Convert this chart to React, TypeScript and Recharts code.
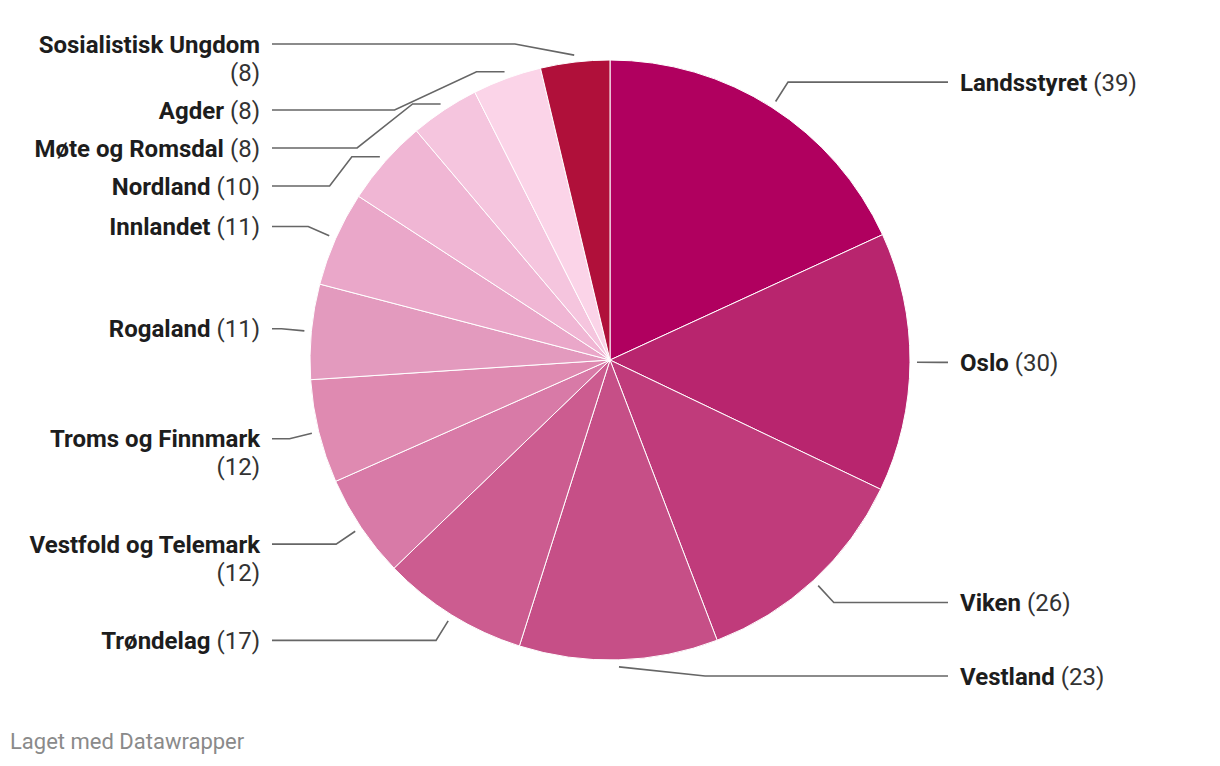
import { Cell, Pie, PieChart } from "recharts";

const NAMES = [
  "Landsstyret",
  "Oslo",
  "Viken",
  "Vestland",
  "Trøndelag",
  "Vestfold og Telemark",
  "Troms og Finnmark",
  "Rogaland",
  "Innlandet",
  "Nordland",
  "Møte og Romsdal",
  "Agder",
  "Sosialistisk Ungdom",
];

const VALUES = [39, 30, 26, 23, 17, 12, 12, 11, 11, 10, 8, 8, 8];

const COLORS = [
  "#b0005f",
  "#b8256e",
  "#c03b7b",
  "#c64f87",
  "#cc5c90",
  "#d87aa7",
  "#df8ab1",
  "#e39abe",
  "#eaa7c9",
  "#f0b6d4",
  "#f5c5de",
  "#fbd4e8",
  "#b0103a",
];

const WIDTH = 1220;
const HEIGHT = 766;
const CX = 610;
const CY = 360;
const RADIUS = 300;
const ELBOW_R = 330;
const LINE_H = 28;
const GAP = 10;
const TOP_Y = 44;
const BOTTOM_Y = 676;
const FONT = 24;

const data = NAMES.map((name, i) => ({ name, value: VALUES[i] }));

function isWrapped(i: number) {
  return `${NAMES[i]} (${VALUES[i]})`.length > 20;
}

// label y positions, pushed apart per side so they don't overlap
function layoutLabels() {
  const total = VALUES.reduce((s, v) => s + v, 0);
  let cum = 0;
  const items = VALUES.map((v, i) => {
    const mid = 90 - ((cum + v / 2) / total) * 360;
    cum += v;
    const rad = (mid * Math.PI) / 180;
    return {
      index: i,
      right: Math.cos(rad) >= 0,
      y: CY - ELBOW_R * Math.sin(rad),
      lines: isWrapped(i) ? 2 : 1,
    };
  });

  const result: number[] = new Array(VALUES.length).fill(0);
  [true, false].forEach((side) => {
    const list = items.filter((it) => it.right === side).sort((a, b) => a.y - b.y);
    let prev = -Infinity;
    list.forEach((it) => {
      it.y = Math.max(it.y, prev, TOP_Y);
      prev = it.y + it.lines * LINE_H + GAP;
    });
    let next = Infinity;
    for (let k = list.length - 1; k >= 0; k--) {
      const it = list[k];
      it.y = Math.min(it.y, next - it.lines * LINE_H - GAP, BOTTOM_Y - (it.lines - 1) * LINE_H);
      next = it.y;
    }
    list.forEach((it) => {
      result[it.index] = it.y;
    });
  });
  return result;
}

const LABEL_Y = layoutLabels();

function renderLabel(props: any) {
  const { cx, cy, midAngle, outerRadius, index } = props;
  const rad = (-midAngle * Math.PI) / 180;
  const right = Math.cos(rad) >= 0;
  const dir = right ? 1 : -1;
  const sx = cx + (outerRadius + 7) * Math.cos(rad);
  const sy = cy + (outerRadius + 7) * Math.sin(rad);
  const ly = LABEL_Y[index];
  const dy = ly - cy;
  const ex = cx + dir * Math.sqrt(Math.max(ELBOW_R * ELBOW_R - dy * dy, 0));
  const points: [number, number][] = [[sx, sy]];
  if (Math.abs(dy) < Math.abs(sy - cy) - 5) {
    points.push([sx + dir * 28, sy]);
  }
  points.push([ex, ly]);
  points.push([cx + dir * 338, ly]);

  const tx = cx + dir * 350;
  const anchor = right ? "start" : "end";
  const wrapped = isWrapped(index);
  const base = ly + 8.5;

  return (
    <g key={`label-${index}`}>
      <polyline
        points={points.map((p) => p.join(",")).join(" ")}
        fill="none"
        stroke="#666"
        strokeWidth={1.6}
      />
      <text
        x={tx}
        y={base}
        textAnchor={anchor}
        fontFamily="Roboto, sans-serif"
        fontSize={FONT}
        fill="#1d1d1d"
      >
        <tspan fontWeight={700}>{NAMES[index]}</tspan>
        {wrapped ? null : <tspan fill="#333"> ({VALUES[index]})</tspan>}
      </text>
      {wrapped ? (
        <text
          x={tx}
          y={base + LINE_H}
          textAnchor={anchor}
          fontFamily="Roboto, sans-serif"
          fontSize={FONT}
          fill="#333"
        >
          ({VALUES[index]})
        </text>
      ) : null}
    </g>
  );
}

export default function App() {
  return (
    <div
      style={{
        position: "absolute",
        left: 0,
        top: 0,
        width: WIDTH,
        height: HEIGHT,
        background: "#fff",
        fontFamily: "Roboto, sans-serif",
      }}
    >
      <PieChart width={WIDTH} height={HEIGHT} margin={{ top: 0, right: 0, bottom: 0, left: 0 }}>
        <Pie
          data={data}
          dataKey="value"
          nameKey="name"
          cx={CX}
          cy={CY}
          outerRadius={RADIUS}
          startAngle={90}
          endAngle={-270}
          stroke="#fff"
          strokeWidth={1}
          label={renderLabel}
          labelLine={false}
          isAnimationActive={false}
        >
          {data.map((d, i) => (
            <Cell key={d.name} fill={COLORS[i]} />
          ))}
        </Pie>
      </PieChart>
      <div
        style={{
          position: "absolute",
          left: 10,
          top: 729,
          fontSize: 22,
          color: "#8a8a8a",
        }}
      >
        Laget med Datawrapper
      </div>
    </div>
  );
}
